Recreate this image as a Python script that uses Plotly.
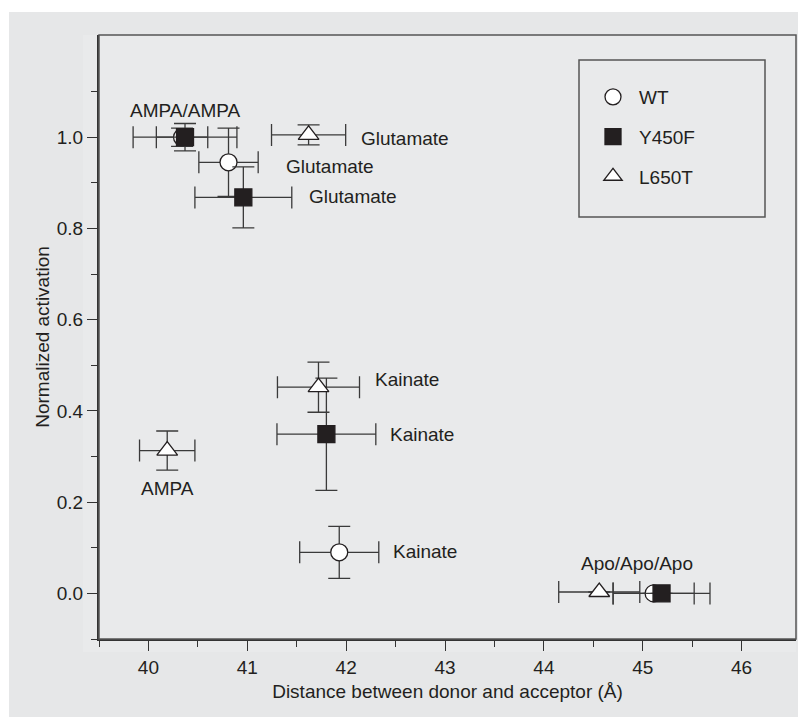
import plotly.graph_objects as go

# ---- data ----
series_names = ["WT", "Y450F", "L650T"]

wt_x = [40.34, 40.81, 41.93, 45.11]
wt_y = [1.00, 0.945, 0.090, 0.000]
wt_xerr = [0.26, 0.30, 0.40, 0.41]
wt_yerr = [0.020, 0.075, 0.057, 0.0]

y450f_x = [40.37, 40.96, 41.80, 45.19]
y450f_y = [1.00, 0.868, 0.349, 0.000]
y450f_xerr = [0.525, 0.49, 0.50, 0.49]
y450f_yerr = [0.030, 0.067, 0.123, 0.0]

l650t_x = [40.19, 41.62, 41.72, 44.56]
l650t_y = [0.313, 1.005, 0.452, 0.003]
l650t_xerr = [0.28, 0.375, 0.415, 0.41]
l650t_yerr = [0.043, 0.022, 0.055, 0.0]

label_text = ["AMPA/AMPA", "Glutamate", "Glutamate", "Glutamate",
              "Kainate", "Kainate", "Kainate", "AMPA", "Apo/Apo/Apo"]
label_x = [39.79, 42.13, 41.37, 41.60, 42.27, 42.42, 42.45, 39.90, 44.35]
label_y = [1.059, 0.998, 0.935, 0.869, 0.469, 0.349, 0.092, 0.230, 0.066]

x_ticks = [40, 41, 42, 43, 44, 45, 46]
x_minor = [39.5, 40.5, 41.5, 42.5, 43.5, 44.5, 45.5]
y_ticks = [0.0, 0.2, 0.4, 0.6, 0.8, 1.0]
y_minor = [-0.1, 0.1, 0.3, 0.5, 0.7, 0.9, 1.1]

# ---- style ----
INK = "#231f20"
BAR = "#3a3a3a"
FONT = "Liberation Sans"
FS = 19

fig = go.Figure()

def add_series(name, xs, ys, xe, ye, symbol, fill, size):
    fig.add_trace(go.Scatter(
        x=xs, y=ys, mode="markers", name=name,
        marker=dict(symbol=symbol, size=size, color=fill,
                    line=dict(color=INK, width=1.3)),
        error_x=dict(type="data", array=xe, visible=True,
                     color=BAR, thickness=1.3, width=11),
        error_y=dict(type="data", array=ye, visible=True,
                     color=BAR, thickness=1.3, width=11),
        legendgroup=name,
    ))

add_series(series_names[0], wt_x, wt_y, wt_xerr, wt_yerr, "circle", "white", 17)
add_series(series_names[1], y450f_x, y450f_y, y450f_xerr, y450f_yerr, "square", INK, 17)
add_series(series_names[2], l650t_x, l650t_y, l650t_xerr, l650t_yerr, "triangle-up", "white", 18)

for t, xx, yy in zip(label_text, label_x, label_y):
    fig.add_annotation(x=xx, y=yy, text=t, showarrow=False,
                       xanchor="left", yanchor="middle",
                       font=dict(family=FONT, size=FS, color=INK))

# page has an 8px body margin; figure geometry given in page pixels
OFF = 8
W, H = 806 - OFF, 717 - OFF
L, T = 99 - OFF, 35 - OFF
pw, ph = 697, 604
R = W - L - pw
B = H - T - ph

def px(X):
    return (X - OFF - L) / pw

def py(Y):
    return (T + ph - (Y - OFF)) / ph

shapes = [
    # grey page background
    dict(type="rect", xref="paper", yref="paper", layer="below",
         x0=px(9), x1=px(806), y0=py(717), y1=py(12),
         fillcolor="#e6e7e8", line=dict(width=0)),
    # slightly lighter plot panel
    dict(type="rect", xref="paper", yref="paper", layer="below",
         x0=px(83), x1=1, y0=py(652), y1=1,
         fillcolor="#e9eaeb", line=dict(width=0)),
    # top / right frame
    dict(type="rect", xref="paper", yref="paper", layer="above",
         x0=0, x1=1, y0=0, y1=1,
         line=dict(color="#555555", width=1.5)),
    # legend box
    dict(type="rect", xref="paper", yref="paper", layer="above",
         x0=px(579), x1=px(765), y0=py(217), y1=py(60),
         line=dict(color="#555555", width=1.5)),
]

axis_common = dict(
    showline=True, linecolor="#333333", linewidth=2,
    ticks="outside", ticklen=10, tickwidth=1.3, tickcolor="#333333",
    showgrid=False, zeroline=False,
    tickfont=dict(family=FONT, size=FS, color=INK),
)

fig.update_layout(
    width=W, height=H, autosize=False,
    margin=dict(l=L, r=R, t=T, b=B, pad=0),
    paper_bgcolor="white", plot_bgcolor="rgba(0,0,0,0)",
    font=dict(family=FONT, size=FS, color=INK),
    shapes=shapes,
    showlegend=True,
    legend=dict(x=px(587), y=py(78), xanchor="left", yanchor="top",
                bgcolor="rgba(0,0,0,0)", borderwidth=0,
                traceorder="grouped", tracegroupgap=12, itemwidth=42,
                font=dict(family=FONT, size=FS, color=INK)),
    xaxis=dict(range=[39.5, 46.55], tickmode="array", tickvals=x_ticks,
               ticktext=[str(v) for v in x_ticks],
               minor=dict(tickmode="array", tickvals=x_minor, ticks="outside",
                          ticklen=6, tickwidth=1.3, tickcolor="#333333"),
               title=dict(text="Distance between donor and acceptor (Å)",
                          font=dict(family=FONT, size=FS, color=INK), standoff=8),
               **axis_common),
    yaxis=dict(range=[-0.1, 1.224], tickmode="array", tickvals=y_ticks,
               ticktext=[f"{v:.1f}" for v in y_ticks],
               minor=dict(tickmode="array", tickvals=y_minor, ticks="outside",
                          ticklen=6, tickwidth=1.3, tickcolor="#333333"),
               title=dict(text="Normalized activation",
                          font=dict(family=FONT, size=FS, color=INK), standoff=2),
               **axis_common),
)

fig.write_html("out.html")
